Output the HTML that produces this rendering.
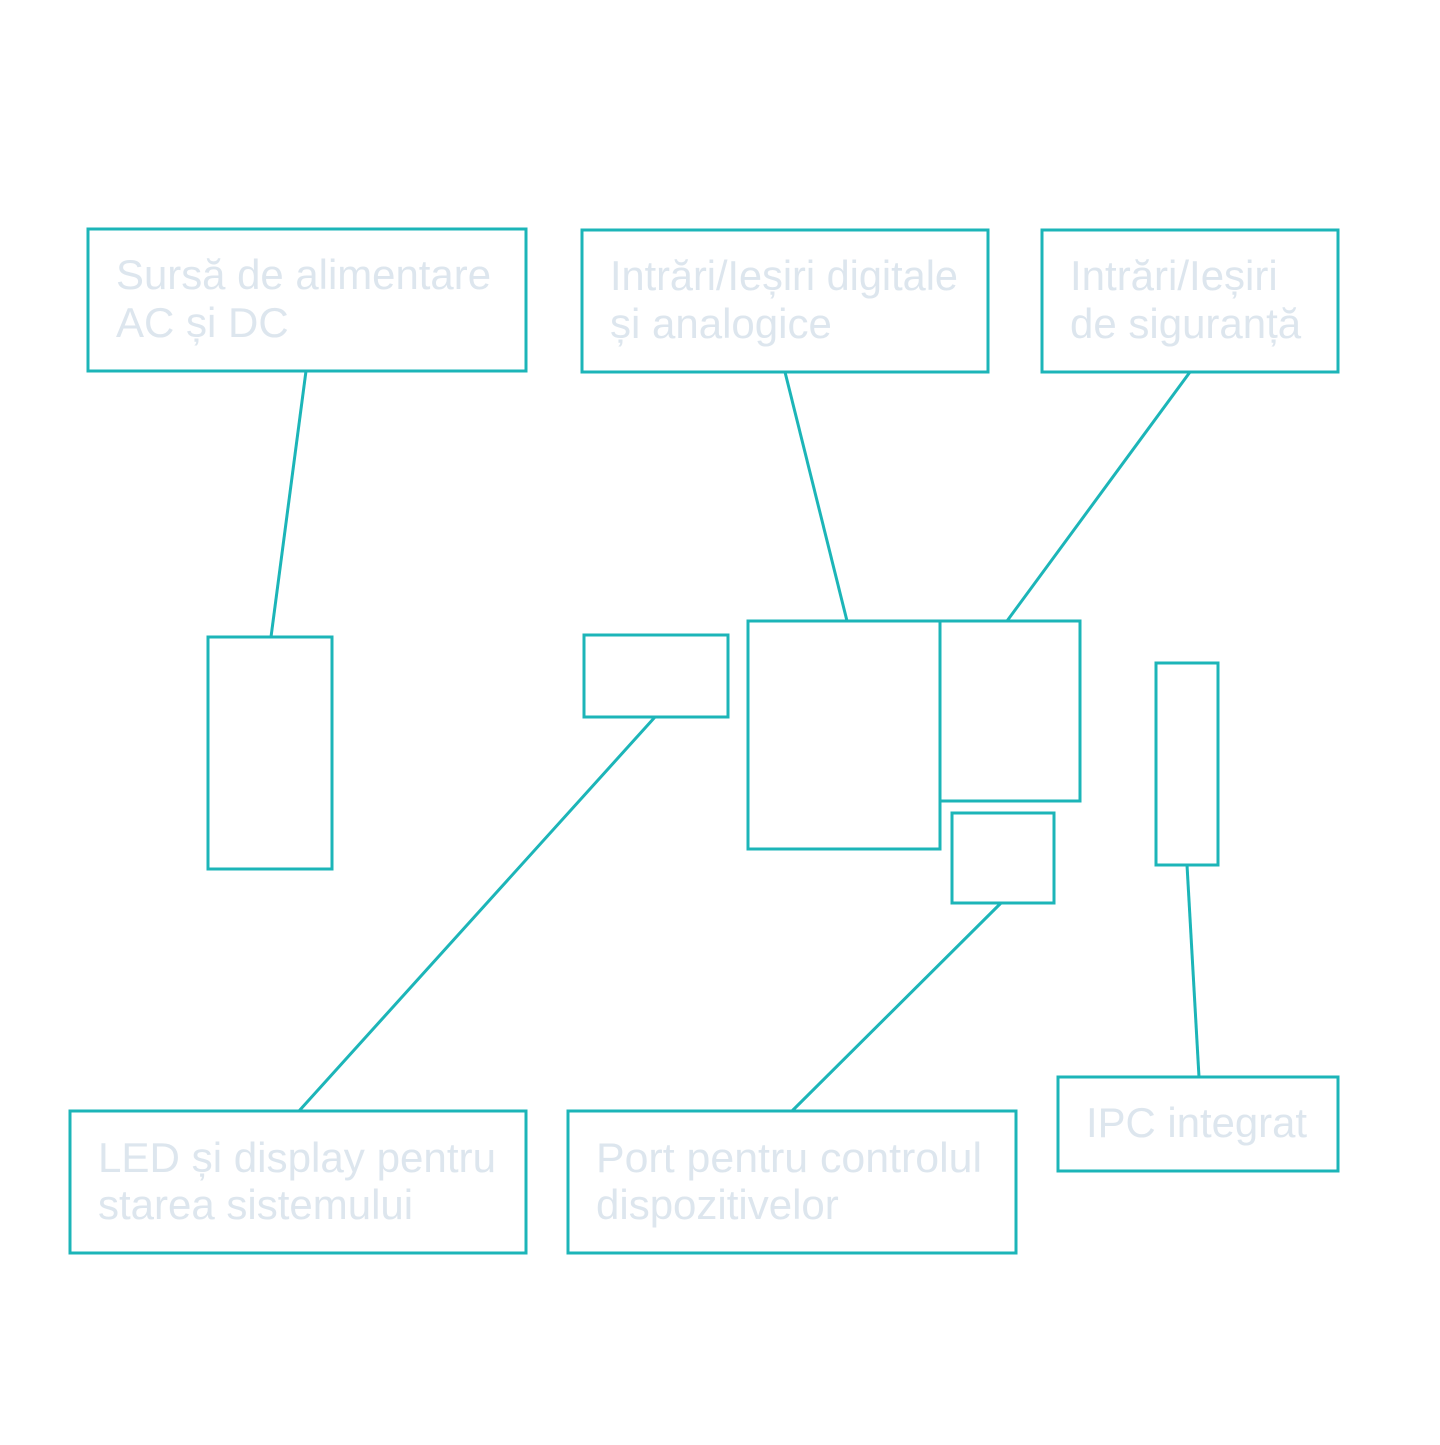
<!DOCTYPE html>
<html><head><meta charset="utf-8"><style>html,body{margin:0;padding:0;background:#fff}</style></head>
<body>
<svg width="1440" height="1440" viewBox="0 0 1440 1440" xmlns="http://www.w3.org/2000/svg">
<g fill="none" stroke="#1cb5b8" stroke-width="3">
<rect x="88" y="229" width="438" height="142"/>
<rect x="582" y="230" width="406" height="142"/>
<rect x="1042" y="230" width="296" height="142"/>
<rect x="208" y="637" width="124" height="232"/>
<rect x="584" y="635" width="144" height="82"/>
<rect x="748" y="621" width="192" height="228"/>
<rect x="940" y="621" width="140" height="180"/>
<rect x="952" y="813" width="102" height="90"/>
<rect x="1156" y="663" width="62" height="202"/>
<rect x="70" y="1111" width="456" height="142"/>
<rect x="568" y="1111" width="448" height="142"/>
<rect x="1058" y="1077" width="280" height="94"/>
<line x1="306" y1="371" x2="271" y2="637"/>
<line x1="785" y1="372" x2="847" y2="621"/>
<line x1="1190" y1="372" x2="1007" y2="621"/>
<line x1="655" y1="717" x2="299" y2="1111"/>
<line x1="1001" y1="903" x2="792" y2="1111"/>
<line x1="1187" y1="865" x2="1199" y2="1077"/>
</g>
<g fill="#dde6ee" font-family="Liberation Sans, sans-serif" font-size="42">
<text x="116" y="289" textLength="375" lengthAdjust="spacingAndGlyphs">Sursă de alimentare</text>
<text x="116" y="337">AC și DC</text>
<text x="610" y="290" textLength="348" lengthAdjust="spacingAndGlyphs">Intrări/Ieșiri digitale</text>
<text x="610" y="338">și analogice</text>
<text x="1070" y="290">Intrări/Ieșiri</text>
<text x="1070" y="338">de siguranță</text>
<text x="98" y="1172" textLength="398" lengthAdjust="spacingAndGlyphs">LED și display pentru</text>
<text x="98" y="1219">starea sistemului</text>
<text x="596" y="1172" textLength="386" lengthAdjust="spacingAndGlyphs">Port pentru controlul</text>
<text x="596" y="1219">dispozitivelor</text>
<text x="1086" y="1137" textLength="221" lengthAdjust="spacingAndGlyphs">IPC integrat</text>
</g>
</svg>
</body></html>
